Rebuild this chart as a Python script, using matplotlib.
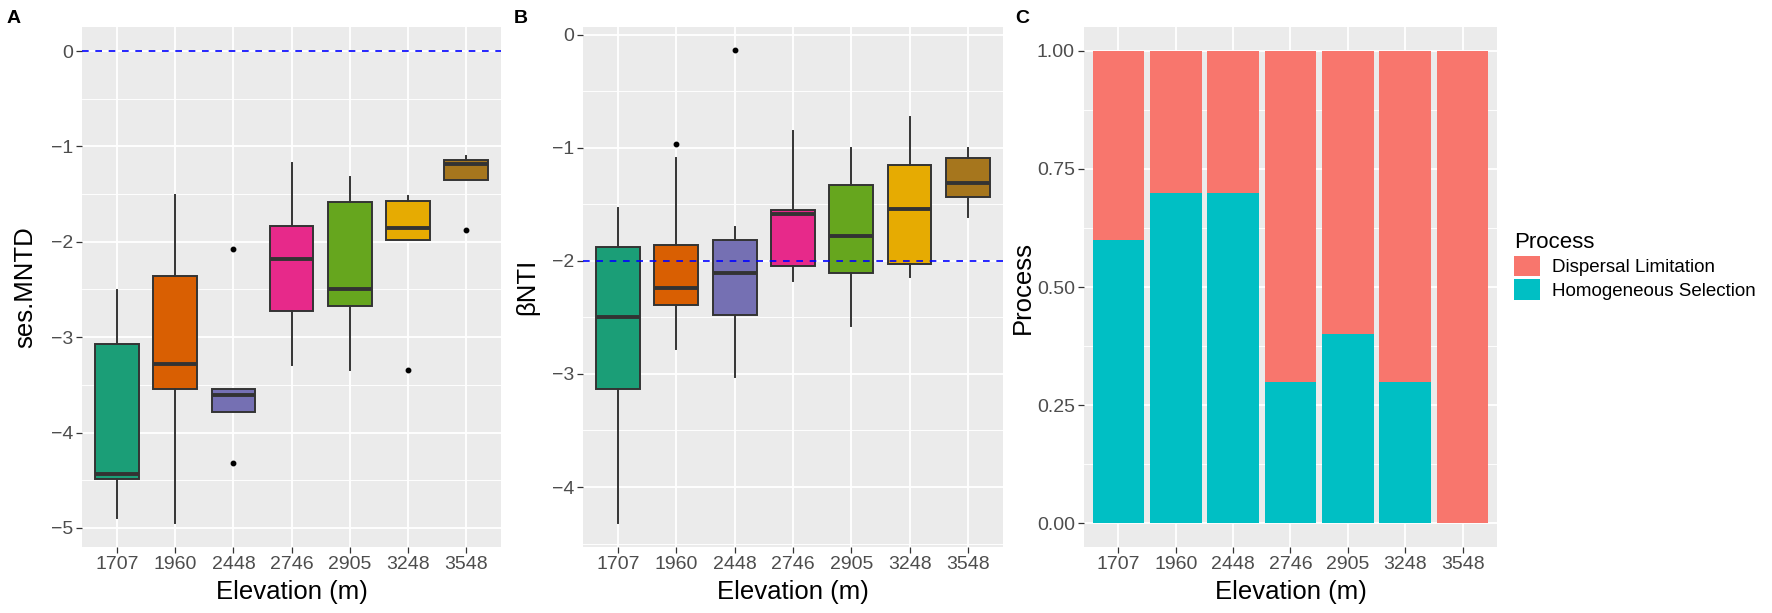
import matplotlib
matplotlib.use("Agg")
import matplotlib.pyplot as plt
from matplotlib.patches import Patch
import numpy as np

plt.rcParams['font.family'] = ['Liberation Sans', 'DejaVu Sans']

elevations = ["1707", "1960", "2448", "2746", "2905", "3248", "3548"]
box_colors = ["#1B9E77", "#D95F02", "#7570B3", "#E7298A", "#66A61E", "#E6AB02", "#A6761D"]

# ses.MNTD summary
mntd_whislo = [-4.90, -4.95, -3.78, -3.29, -3.34, -1.98, -1.35]
mntd_q1 = [-4.49, -3.54, -3.78, -2.73, -2.67, -1.98, -1.35]
mntd_med = [-4.43, -3.28, -3.61, -2.18, -2.50, -1.86, -1.18]
mntd_q3 = [-3.07, -2.36, -3.54, -1.83, -1.58, -1.57, -1.14]
mntd_whishi = [-2.51, -1.51, -3.54, -1.17, -1.32, -1.52, -1.10]
mntd_fliers = [[], [], [-2.08, -4.32], [], [], [-3.34], [-1.88]]

# betaNTI summary
bnti_whislo = [-4.32, -2.78, -3.03, -2.18, -2.58, -2.14, -1.61]
bnti_q1 = [-3.13, -2.39, -2.48, -2.05, -2.11, -2.03, -1.44]
bnti_med = [-2.50, -2.24, -2.11, -1.59, -1.78, -1.54, -1.31]
bnti_q3 = [-1.88, -1.86, -1.82, -1.55, -1.33, -1.15, -1.09]
bnti_whishi = [-1.53, -1.09, -1.70, -0.85, -1.00, -0.73, -1.00]
bnti_fliers = [[], [-0.97], [-0.14], [], [], [], []]

# relative importance of processes
homogeneous = [0.6, 0.7, 0.7, 0.3, 0.4, 0.3, 0.0]
dispersal = [0.4, 0.3, 0.3, 0.7, 0.6, 0.7, 1.0]

BG = "#EBEBEB"
TICK_COL = "#4D4D4D"
EDGE = "#333333"


def style_axes(ax):
    ax.set_facecolor(BG)
    for s in ax.spines.values():
        s.set_visible(False)
    ax.set_axisbelow(True)
    ax.grid(which='major', color='white', linewidth=1.3)
    ax.grid(which='minor', axis='y', color='white', linewidth=0.65)
    ax.tick_params(which='major', direction='out', length=4, width=0.9, color=EDGE,
                   labelcolor=TICK_COL, labelsize=14, pad=2.5)
    ax.tick_params(which='minor', length=0)
    ax.set_xlabel("Elevation (m)", fontsize=18.5, va='center')
    ax.xaxis.set_label_coords(0.5, -0.0865)


def draw_boxes(ax, lo, q1, med, q3, hi, fliers):
    stats = []
    for i in range(len(elevations)):
        stats.append({'whislo': lo[i], 'q1': q1[i], 'med': med[i], 'q3': q3[i],
                      'whishi': hi[i], 'fliers': fliers[i]})
    pos = np.arange(len(elevations))
    bp = ax.bxp(stats, positions=pos, widths=0.75, patch_artist=True, showcaps=False,
                boxprops=dict(edgecolor=EDGE, linewidth=1.4),
                whiskerprops=dict(color=EDGE, linewidth=1.4),
                medianprops=dict(color=EDGE, linewidth=2.8),
                flierprops=dict(marker='o', markersize=3.2, markerfacecolor='black',
                                markeredgecolor='black'))
    for patch, c in zip(bp['boxes'], box_colors):
        patch.set_facecolor(c)
    ax.set_xticks(pos)
    ax.set_xticklabels(elevations)
    ax.set_xlim(-0.6, len(elevations) - 0.4)


fig = plt.figure(figsize=(17.72, 6.13), dpi=100)
bottom, height = 0.1077, 0.848

# panel A
axA = fig.add_axes([0.0463, bottom, 0.2365, height])
style_axes(axA)
draw_boxes(axA, mntd_whislo, mntd_q1, mntd_med, mntd_q3, mntd_whishi, mntd_fliers)
axA.axhline(0, color='blue', linestyle=(0, (4, 4)), linewidth=1.2, zorder=1.5)
axA.set_ylim(-5.2, 0.25)
axA.set_yticks([0, -1, -2, -3, -4, -5])
axA.set_yticklabels(["0", "\u22121", "\u22122", "\u22123", "\u22124", "\u22125"])
axA.set_yticks(np.arange(-4.5, 0, 1.0), minor=True)
axA.set_ylabel("ses.MNTD", fontsize=18.5, va='center')
axA.yaxis.set_label_coords(-0.136, 0.5)

# panel B
axB = fig.add_axes([0.329, bottom, 0.237, height])
style_axes(axB)
draw_boxes(axB, bnti_whislo, bnti_q1, bnti_med, bnti_q3, bnti_whishi, bnti_fliers)
axB.axhline(-2, color='blue', linestyle=(0, (4, 4)), linewidth=1.2, zorder=3)
axB.set_ylim(-4.53, 0.065)
axB.set_yticks([0, -1, -2, -3, -4])
axB.set_yticklabels(["0", "\u22121", "\u22122", "\u22123", "\u22124"])
axB.set_yticks(np.arange(-4.5, 0, 1.0), minor=True)
axB.set_ylabel("\u03b2NTI", fontsize=18.5, va='center')
axB.yaxis.set_label_coords(-0.133, 0.5)

# panel C
axC = fig.add_axes([0.6117, bottom, 0.2331, height])
style_axes(axC)
pos = np.arange(len(elevations))
axC.bar(pos, homogeneous, width=0.9, color="#00BFC4")
axC.bar(pos, dispersal, width=0.9, bottom=homogeneous, color="#F8766D")
axC.set_xticks(pos)
axC.set_xticklabels(elevations)
axC.set_xlim(-0.6, len(elevations) - 0.4)
axC.set_ylim(-0.05, 1.05)
axC.set_yticks([0, 0.25, 0.5, 0.75, 1.0])
axC.set_yticklabels(["0.00", "0.25", "0.50", "0.75", "1.00"])
axC.set_yticks([0.125, 0.375, 0.625, 0.875], minor=True)
axC.set_ylabel("Process", fontsize=18.5, va='center')
axC.yaxis.set_label_coords(-0.148, 0.5)

handles = [Patch(facecolor="#F8766D", label="Dispersal Limitation"),
           Patch(facecolor="#00BFC4", label="Homogeneous Selection")]
leg = fig.legend(handles=handles, title="Process", loc='upper left',
                 bbox_to_anchor=(0.8544, 0.622), frameon=False, fontsize=13.5,
                 title_fontsize=16, handlelength=1.39, handleheight=1.33,
                 handletextpad=0.64, labelspacing=0.15, borderpad=0,
                 borderaxespad=0)
leg._legend_box.align = "left"

# panel letters
for x, lab in [(0.0034, "A"), (0.290, "B"), (0.5728, "C")]:
    fig.text(x, 1 - 23 / 613, lab, fontsize=14, fontweight='bold', va='baseline', ha='left')

fig.savefig("out.png", dpi=100)
